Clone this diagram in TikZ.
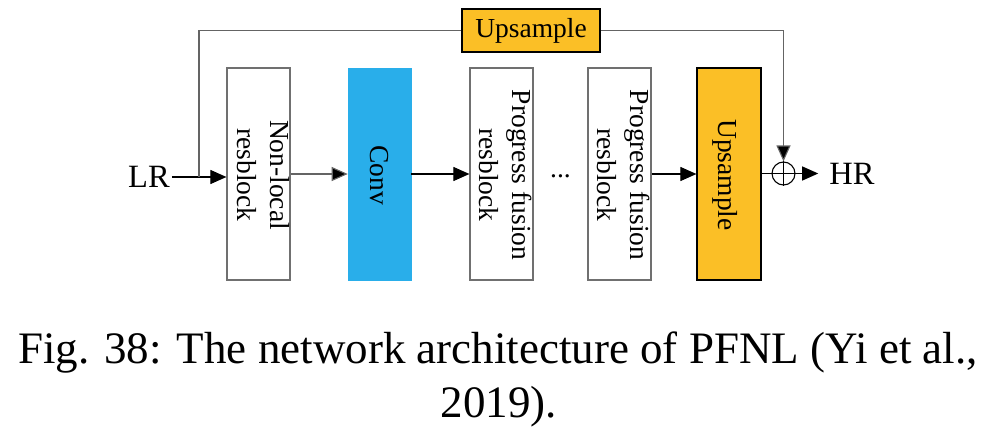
\documentclass[tikz,border=0pt]{standalone}
\usepackage{fontspec}
\setmainfont{Liberation Serif}
\usetikzlibrary{arrows.meta,calc}
\definecolor{uporange}{RGB}{251,191,38}
\definecolor{convcyan}{RGB}{41,174,234}
\definecolor{boxgray}{RGB}{112,112,112}
\definecolor{loopgray}{RGB}{100,100,100}
\tikzset{
  blk/.style={draw=boxgray, line width=1.2pt, minimum width=63pt, minimum height=212pt, inner sep=0pt},
  convblk/.style={fill=convcyan, draw=convcyan, line width=0.6pt, minimum width=63pt, minimum height=212pt, inner sep=0pt},
  upblk/.style={fill=uporange, draw=black, line width=1.2pt, minimum width=64pt, minimum height=212pt, inner sep=0pt},
  topblk/.style={fill=uporange, draw=black, line width=1.2pt, minimum width=138pt, minimum height=43pt, inner sep=0pt, font=\fontsize{27.5}{33}\selectfont},
  vtext/.style={rotate=-90, align=center, inner sep=0pt, font=\fontsize{27.5}{33}\selectfont},
  iotext/.style={inner sep=0pt, font=\fontsize{32.5}{39}\selectfont},
  captext/.style={inner sep=0pt, anchor=base, font=\fontsize{45}{54}\selectfont},
  arr/.style={line width=1.1pt, draw=black, -{Triangle[length=16pt,width=14pt]}},
  gline/.style={line width=1.1pt, draw=loopgray},
  gway/.style={line width=1.1pt, draw=loopgray, -{Triangle[length=16pt,width=14pt,fill=black]}},
  pline/.style={line width=1.1pt, draw=black},
}
\begin{document}
\begin{tikzpicture}[x=1pt,y=-1pt]
\useasboundingbox (0,0) rectangle (982,436);
% blocks
\node[blk] (b1) at (258.5,174) {};
\node[convblk] (conv) at (379.5,174) {};
\node[blk] (b3) at (501.5,174) {};
\node[blk] (b4) at (619.5,174) {};
\node[upblk] (up) at (729,174) {};
\node[topblk] (topup) at (531,30.5) {Upsample};
\node[circle, draw=black, line width=1.1pt, minimum size=23pt, inner sep=0pt] (plus) at (783.5,173.5) {};
\draw[pline] (plus.north) -- (plus.south);
\draw[pline] (plus.west) -- (plus.east);
% texts in blocks
\node[vtext, anchor=north] (t1) at (290,175) {Non-local\\resblock};
\node[vtext] (tconv) at (379.5,175) {Conv};
\node[vtext, anchor=north] (t3) at (532.5,175) {Progress fusion\\resblock};
\node[vtext, anchor=north] (t4) at (650.5,175) {Progress fusion\\resblock};
\node[vtext] (tup) at (725,175) {Upsample};
\node[inner sep=0pt, font=\fontsize{27.5}{33}\selectfont] (dots) at (560.5,176) {...};
% io
\node[iotext] (LR) at (149,177) {LR};
\node[iotext] (HR) at (852,173.5) {HR};
\coordinate (split) at (199,177);
% connectors
\draw[arr] ([xshift=2pt]LR.east) -- (LR.east -| b1.west);
\draw[gline] (split) |- (topup.west);
\draw[gway] (topup.east) -| (plus.north);
\draw[gway] (b1.east) -- (conv.west);
\draw[arr] (conv.east) -- (b3.west);
\draw[arr] (b4.east) -- (up.west);
\draw[pline] (up.east |- plus.west) -- (plus.west);
\draw[arr] (plus.east) -- ([xshift=-11pt]HR.west);
% caption
\node[captext] (cap1) at (498,363) {Fig. 38: The network architecture of PFNL (Yi et al.,};
\node[captext] (cap2) at (499,417) {2019).};
\end{tikzpicture}
\end{document}
